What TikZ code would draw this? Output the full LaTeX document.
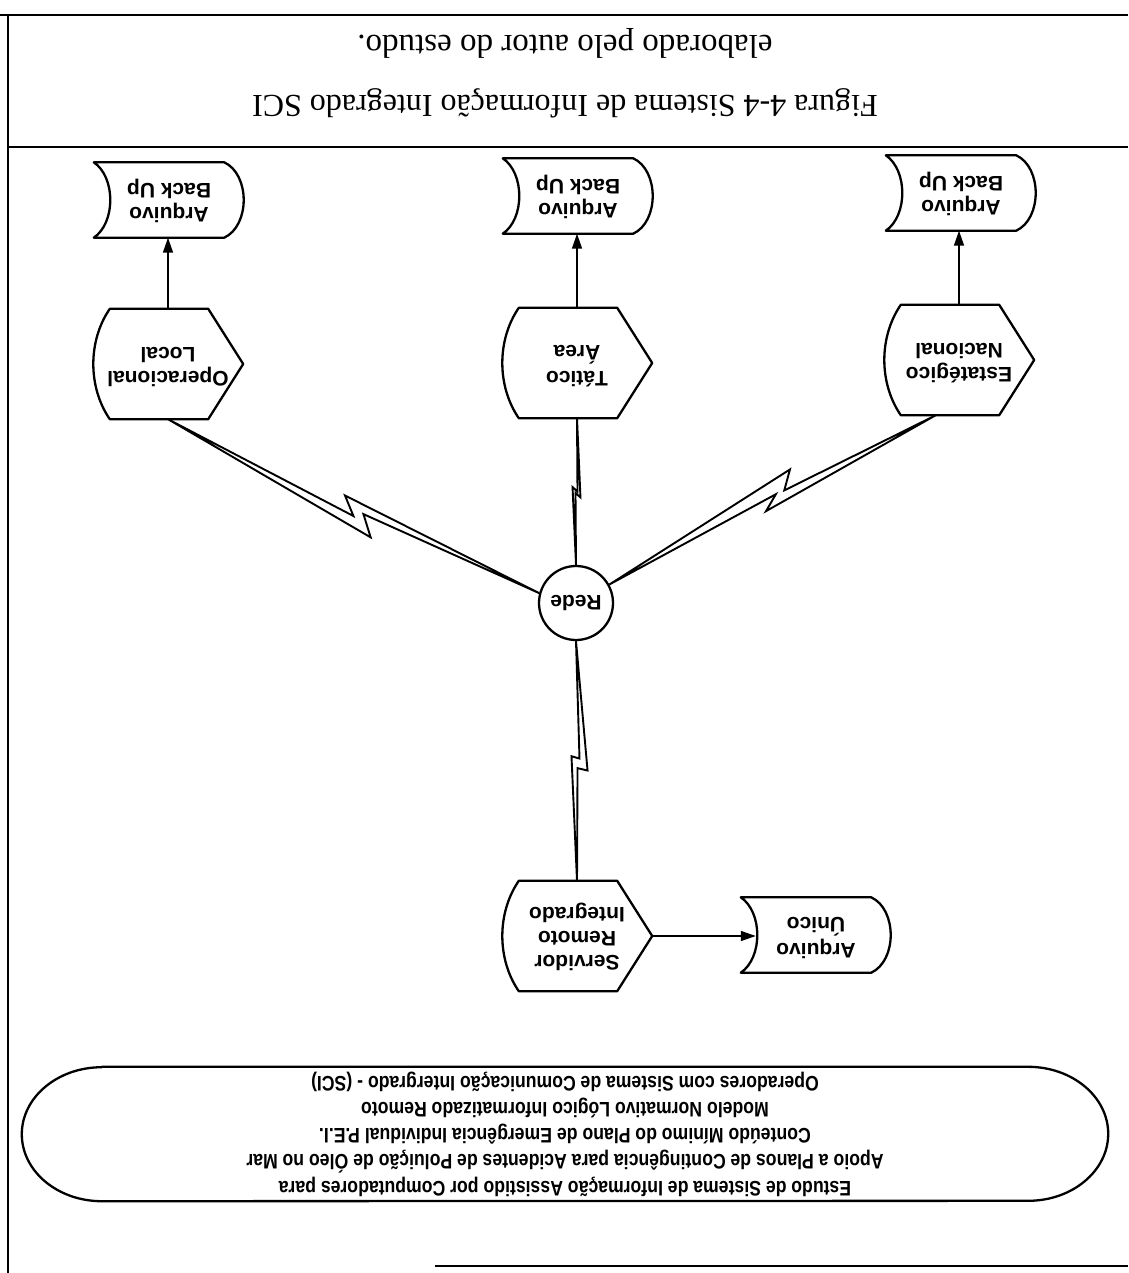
\documentclass[tikz,border=0pt]{standalone}
\usepackage{fontspec}
\setmainfont{Liberation Serif}
\newfontfamily\lsans{Liberation Sans}
\newfontfamily\lnarrow{Liberation Sans}[FakeStretch=0.84]
\usepackage{graphicx}
\usetikzlibrary{calc,arrows.meta}
\newcommand{\flip}[1]{\rotatebox{180}{\begin{tabular}{@{}c@{}}#1\end{tabular}}}
\newcommand{\dispshape}[1]{%
  \draw[outl] ($(#1.north west)+(17,0)$) -- ($(#1.north east)+(-35,0)$) -- (#1.east)
    -- ($(#1.south east)+(-35,0)$) -- ($(#1.south west)+(17,0)$)
    .. controls ($(#1.south west)+(-5,-32)$) and ($(#1.north west)+(-5,32)$) .. cycle;}
\newcommand{\fileshape}[1]{%
  \draw[outl] (#1.north west) -- ($(#1.north east)+(-20,0)$)
    .. controls ($(#1.north east)+(6,12)$) and ($(#1.south east)+(6,-12)$) .. ($(#1.south east)+(-20,0)$)
    -- (#1.south west)
    .. controls ($(#1.south west)+(22,-15)$) and ($(#1.north west)+(22,15)$) .. cycle;}
\begin{document}
\begin{tikzpicture}[x=1pt,y=-1pt,
  outl/.style={line width=2.3pt, line join=round},
  frameline/.style={line width=2.6pt},
  lbl/.style={font=\lsans\bfseries\fontsize{21}{24}\selectfont, inner sep=0pt},
  dispbox/.style={lbl, minimum width=150pt, minimum height=110pt},
  filebox/.style={lbl, minimum width=150pt, minimum height=75pt},
  arr/.style={line width=1.5pt, -{Triangle[length=15pt,width=10pt]}},
  boltline/.style={line width=1.9pt, line join=miter, miter limit=6},
  captext/.style={font=\fontsize{32}{36}\selectfont, inner sep=0pt}]
\useasboundingbox (0,0) rectangle (1128,1273);

% frame
\draw[frameline] (0,15) -- (1128,15);
\draw[frameline] (8,147) -- (1128,147);
\draw[frameline] (8,15) -- (8,1273);
\draw[frameline] (435,1266) -- (1128,1266);

% caption
\node[captext] (cap) at (565,103) {\rotatebox{180}{Figura 4-4 Sistema de Informação Integrado SCI}};
\node[captext, font=\fontsize{33}{36}\selectfont] (src) at (565,43) {\rotatebox{180}{elaborado pelo autor do estudo.}};

% backup files
\node[filebox] (bk1) at (961,193) {\flip{Arquivo\\Back Up}};
\node[filebox] (bk2) at (578,196) {\flip{Arquivo\\Back Up}};
\node[filebox] (bk3) at (169,200) {\flip{Arquivo\\Back Up}};
\fileshape{bk1}\fileshape{bk2}\fileshape{bk3}

% displays
\node[dispbox] (estr) at (959,360) {\flip{Estatégico\\Nacional}};
\node[dispbox] (tat) at (577,363) {\flip{Tático\\Área}};
\node[dispbox] (oper) at (168,364) {\flip{Operacional\\Local}};
\node[dispbox] (serv) at (577,936) {\flip{Servidor\\Remoto\\Integrado}};
\dispshape{estr}\dispshape{tat}\dispshape{oper}\dispshape{serv}

\node[filebox] (unico) at (816,935) {\flip{Arquivo\\Único}};
\fileshape{unico}

% network
\node[lbl, circle, draw, line width=2.3pt, minimum size=74pt] (rede) at (576,603) {\rotatebox{180}{Rede}};

% arrows
\draw[arr] (estr.north) -- (estr.north |- bk1.south);
\draw[arr] (tat.north) -- (tat.north |- bk2.south);
\draw[arr] (oper.north) -- (oper.north |- bk3.south);
\draw[arr] (serv.east) -- ($(serv.east -| unico.west)+(15,0)$);

% lightning links
\coordinate (eA) at (rede.29);
\coordinate (eB) at ($(estr.south west)+(52,0)$);
\draw[boltline] (eA) -- ($(eA)!.58!(eB)!19pt!90:(eB)$) -- ($(eA)!.54!(eB)!3pt!90:(eB)$)
  -- (eB) -- ($(eA)!.47!(eB)!-7pt!90:(eB)$) -- ($(eA)!.515!(eB)!3.5pt!90:(eB)$) -- cycle;

\coordinate (oA) at (rede.165);
\coordinate (oB) at (oper.south);
\draw[boltline] (oA) -- ($(oA)!.53!(oB)!-6pt!90:(oB)$) -- ($(oA)!.49!(oB)!9pt!90:(oB)$)
  -- (oB) -- ($(oA)!.43!(oB)!21pt!90:(oB)$) -- ($(oA)!.47!(oB)!3pt!90:(oB)$) -- cycle;

\coordinate (tA) at (rede.north);
\coordinate (tB) at (tat.south);
\draw[boltline] (tA) -- ($(tA)!.53!(tB)!4pt!90:(tB)$) -- ($(tA)!.50!(tB)!-1pt!90:(tB)$)
  -- (tB) -- ($(tA)!.46!(tB)!-4pt!90:(tB)$) -- ($(tA)!.49!(tB)!1pt!90:(tB)$) -- cycle;

\coordinate (sA) at (rede.south);
\coordinate (sB) at (serv.north);
\draw[boltline] (sA) -- ($(sA)!.54!(sB)!11pt!90:(sB)$) -- ($(sA)!.53!(sB)!1pt!90:(sB)$)
  -- (sB) -- ($(sA)!.48!(sB)!-5pt!90:(sB)$) -- ($(sA)!.49!(sB)!3pt!90:(sB)$) -- cycle;

% study box
\node[inner sep=0pt, minimum width=1086pt, minimum height=134pt,
  font=\lnarrow\bfseries\fontsize{21}{26}\selectfont] (est) at (565,1134)
  {\flip{Estudo de Sistema de Informação Assistido por Computadores para\\
  Apoio a Planos de Contingência para Acidentes de Poluição de Óleo no Mar\\
  Conteúdo Mínimo do Plano de Emergência Individual P.E.I.\\
  Modelo Normativo Lógico Informatizado Remoto\\
  Operadores com Sistema de Comunicação Intergrado - (SCI)}};
\draw[outl] ($(est.north west)+(80,0)$) -- ($(est.north east)+(-80,0)$)
  arc[start angle=90, end angle=-90, x radius=80pt, y radius=67pt]
  -- ($(est.south west)+(80,0)$)
  arc[start angle=270, end angle=90, x radius=80pt, y radius=67pt] -- cycle;
\end{tikzpicture}
\end{document}
